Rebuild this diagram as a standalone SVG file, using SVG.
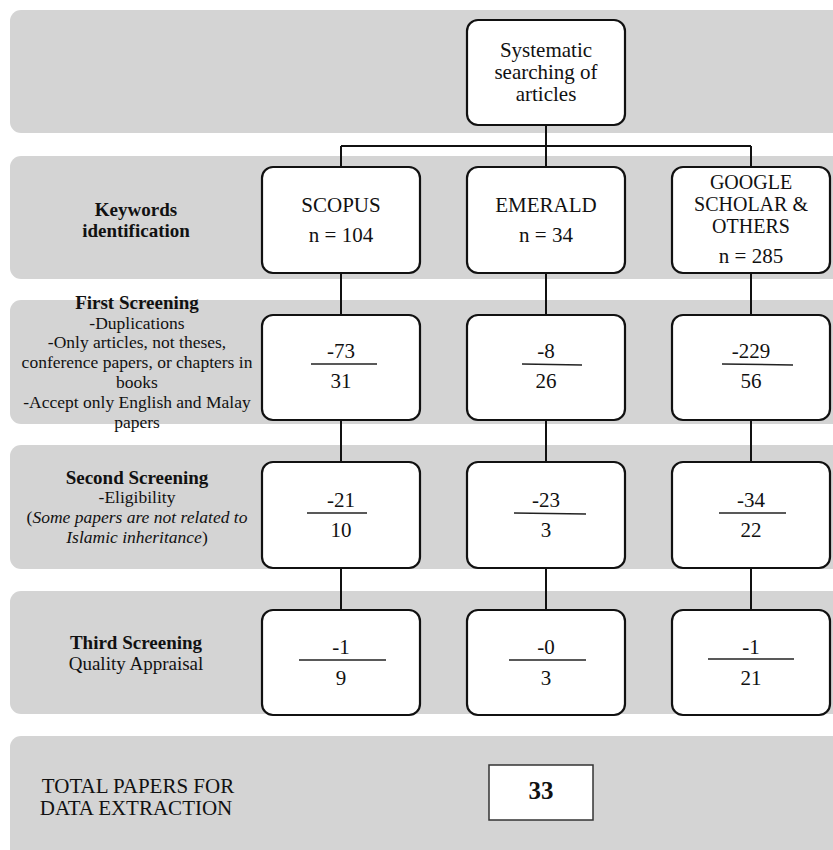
<svg xmlns="http://www.w3.org/2000/svg" width="833" height="850" viewBox="0 0 833 850">
<style>
.band{fill:#d4d4d4}
.box{fill:#fff;stroke:#111;stroke-width:2.2}
.tot{fill:#fff;stroke:#333;stroke-width:1.5}
.conn{fill:none;stroke:#111;stroke-width:2}
.frac{stroke:#222;stroke-width:1.5}
text{font-family:"Liberation Serif","Times New Roman","DejaVu Serif",serif;fill:#111;text-anchor:middle}
.bt{font-size:21px}
.bg{font-size:20px}
.lh{font-size:19px;font-weight:bold}
.lb{font-size:19px}
.ls{font-size:17.5px}
.it{font-style:italic}
</style>
<rect width="833" height="850" fill="#fff"/>
<g id="bands">
<rect class="band" x="10" y="10" width="850" height="123" rx="11"/>
<rect class="band" x="10" y="156" width="850" height="123" rx="11"/>
<rect class="band" x="10" y="300" width="850" height="124" rx="11"/>
<rect class="band" x="10" y="445" width="850" height="124" rx="11"/>
<rect class="band" x="10" y="591" width="850" height="123" rx="11"/>
<rect class="band" x="10" y="736" width="850" height="140" rx="11"/>
</g>
<g id="connectors">
<path class="conn" d="M546 125V146M341 146H751M341 146V167M546 146V167M751 146V167"/>
<path class="conn" d="M341 273V315M546 273V315M751 273V315"/>
<path class="conn" d="M341 420V462M546 420V462M751 420V462"/>
<path class="conn" d="M341 568V610M546 568V610M751 568V610"/>
</g>
<g id="labels">
<text class="lh" x="136" y="216">Keywords</text>
<text class="lh" x="136" y="237">identification</text>
<text class="lh" x="137" y="309">First Screening</text>
<text class="ls" x="137" y="329">-Duplications</text>
<text class="ls" x="137" y="348">-Only articles, not theses,</text>
<text class="ls" x="137" y="368">conference papers, or chapters in</text>
<text class="ls" x="137" y="388">books</text>
<text class="ls" x="137" y="408">-Accept only English and Malay</text>
<text class="ls" x="137" y="428">papers</text>
<text class="lh" x="137" y="484">Second Screening</text>
<text class="ls" x="137" y="503">-Eligibility</text>
<text class="ls" x="137" y="523">(<tspan class="it">Some papers are not related to</tspan></text>
<text class="ls" x="137" y="543"><tspan class="it">Islamic inheritance</tspan>)</text>
<text class="lh" x="136" y="649">Third Screening</text>
<text class="lb" x="136" y="670">Quality Appraisal</text>
<text class="bt" x="138" y="793">TOTAL PAPERS FOR</text>
<text class="bt" x="136" y="815">DATA EXTRACTION</text>
</g>
<g id="n-search">
<rect class="box" x="467" y="20" width="158" height="105" rx="11"/>
<text class="bt" x="546" y="57">Systematic</text>
<text class="bt" x="546" y="79">searching of</text>
<text class="bt" x="546" y="101">articles</text>
</g>
<g id="n-scopus">
<rect class="box" x="262" y="167" width="158" height="106" rx="11"/>
<text class="bt" x="341" y="212">SCOPUS</text>
<text class="bt" x="341" y="242">n = 104</text>
</g>
<g id="n-emerald">
<rect class="box" x="467" y="167" width="158" height="106" rx="11"/>
<text class="bt" x="546" y="212">EMERALD</text>
<text class="bt" x="546" y="242">n = 34</text>
</g>
<g id="n-google">
<rect class="box" x="672" y="167" width="158" height="106" rx="11"/>
<text class="bg" x="751" y="189">GOOGLE</text>
<text class="bg" x="751" y="211">SCHOLAR &amp;</text>
<text class="bg" x="751" y="233">OTHERS</text>
<text class="bt" x="751" y="263">n = 285</text>
</g>
<g id="n-scopus-1">
<rect class="box" x="262" y="315" width="158" height="105" rx="11"/>
<text class="bt" x="341" y="358">-73</text>
<line class="frac" x1="311" y1="364" x2="377" y2="364"/>
<text class="bt" x="341" y="388">31</text>
</g>
<g id="n-emerald-1">
<rect class="box" x="467" y="315" width="158" height="105" rx="11"/>
<text class="bt" x="546" y="358">-8</text>
<line class="frac" x1="522" y1="364" x2="582" y2="365"/>
<text class="bt" x="546" y="388">26</text>
</g>
<g id="n-google-1">
<rect class="box" x="672" y="315" width="158" height="105" rx="11"/>
<text class="bt" x="751" y="358">-229</text>
<line class="frac" x1="722" y1="364" x2="793" y2="365"/>
<text class="bt" x="751" y="388">56</text>
</g>
<g id="n-scopus-2">
<rect class="box" x="262" y="462" width="158" height="106" rx="11"/>
<text class="bt" x="341" y="507">-21</text>
<line class="frac" x1="307" y1="513" x2="367" y2="513"/>
<text class="bt" x="341" y="537">10</text>
</g>
<g id="n-emerald-2">
<rect class="box" x="467" y="462" width="158" height="106" rx="11"/>
<text class="bt" x="546" y="507">-23</text>
<line class="frac" x1="514" y1="513" x2="586" y2="514"/>
<text class="bt" x="546" y="537">3</text>
</g>
<g id="n-google-2">
<rect class="box" x="672" y="462" width="158" height="106" rx="11"/>
<text class="bt" x="751" y="507">-34</text>
<line class="frac" x1="719" y1="513" x2="786" y2="513"/>
<text class="bt" x="751" y="537">22</text>
</g>
<g id="n-scopus-3">
<rect class="box" x="262" y="610" width="158" height="105" rx="11"/>
<text class="bt" x="341" y="654">-1</text>
<line class="frac" x1="299" y1="660" x2="386" y2="660"/>
<text class="bt" x="341" y="685">9</text>
</g>
<g id="n-emerald-3">
<rect class="box" x="467" y="610" width="158" height="105" rx="11"/>
<text class="bt" x="546" y="654">-0</text>
<line class="frac" x1="509" y1="660" x2="586" y2="660"/>
<text class="bt" x="546" y="685">3</text>
</g>
<g id="n-google-3">
<rect class="box" x="672" y="610" width="158" height="105" rx="11"/>
<text class="bt" x="751" y="654">-1</text>
<line class="frac" x1="708" y1="659" x2="794" y2="659"/>
<text class="bt" x="751" y="685">21</text>
</g>
<g id="n-total">
<rect class="tot" x="489" y="765" width="104" height="55"/>
<text x="541" y="799" style="font-size:25px;font-weight:bold">33</text>
</g>
</svg>
